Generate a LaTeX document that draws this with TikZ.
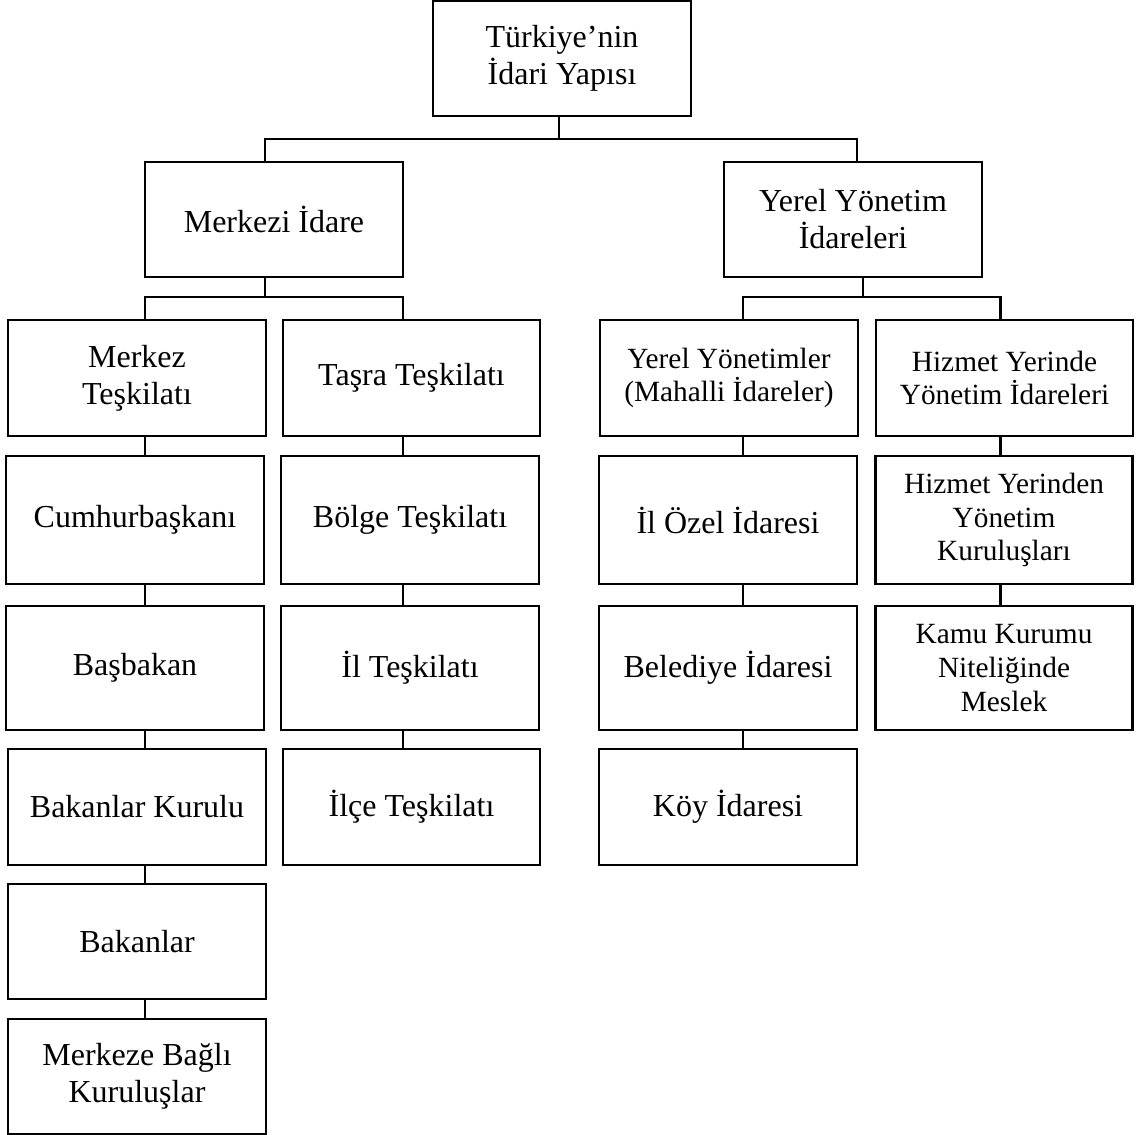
\documentclass[tikz,border=0pt]{standalone}
\usepackage{fontspec}
\setmainfont{Liberation Serif}
\usetikzlibrary{positioning,calc}

\begin{document}
\begin{tikzpicture}[x=0.375pt, y=-0.375pt,
      font=\fontsize{12}{13.9}\selectfont,
      box/.style 2 args={draw, line width=0.8pt, align=center, inner sep=0pt,
        minimum width=#1*0.375pt, minimum height=#2*0.375pt},
      small/.style={font=\fontsize{11}{12.7}\selectfont},
      link/.style={draw, line width=0.8pt}]
      \useasboundingbox (0,0) rectangle (1143,1135);
      % top levels
      \node[box={258}{115}] (top) at (562,58.5) {Türkiye’nin\\İdari Yapısı};
      \node[box={258}{115}] (merkezi) at (274,219.5) {Merkezi İdare};
      \node[box={258}{115}] (yerel) at (853,219.5) {Yerel Yönetim\\İdareleri};
      % row 1
      \node[box={258}{116}] (merkez) at (137,378) {Merkez\\Teşkilatı};
      \node[box={257}{116}] (tasra) at (411.5,378) {Taşra Teşkilatı};
      \node[box={258}{116}, small] (mahalli) at (729,378) {Yerel Yönetimler\\(Mahalli İdareler)};
      \node[box={257}{116}, small] (hizmet) at (1004.5,378) {Hizmet Yerinde\\Yönetim İdareleri};
      % row 2
      \node[box={258}{128}] (cumhur) at (135,520) {Cumhurbaşkanı};
      \node[box={258}{128}] (bolge) at (410,520) {Bölge Teşkilatı};
      \node[box={258}{128}] (ilozel) at (728,520) {İl Özel İdaresi};
      \node[box={257}{128}, small] (kurulus) at (1004,520) {Hizmet Yerinden\\Yönetim\\Kuruluşları};
      % row 3
      \node[box={258}{124}] (basbakan) at (135,668) {Başbakan};
      \node[box={258}{124}] (il) at (410,668) {İl Teşkilatı};
      \node[box={258}{124}] (belediye) at (728,668) {Belediye İdaresi};
      \node[box={257}{124}, small] (meslek) at (1004,668) {Kamu Kurumu\\Niteliğinde\\Meslek};
      % row 4
      \node[box={258}{116}] (kurul) at (137,807) {Bakanlar Kurulu};
      \node[box={257}{116}] (ilce) at (411.5,807) {İlçe Teşkilatı};
      \node[box={258}{116}] (koy) at (728,807) {Köy İdaresi};
      % rows 5 and 6
      \node[box={258}{115}] (bakanlar) at (137,941.5) {Bakanlar};
      \node[box={258}{115}] (bagli) at (137,1076.5) {Merkeze Bağlı\\Kuruluşlar};

      % junctions
      \coordinate (j0) at (559,139);
      \coordinate (ja) at (265,139);
      \coordinate (jb) at (857,139);
      \coordinate (jm) at (265,297);
      \coordinate (jy) at (863,297);
      \coordinate (c1) at (145,297);
      \coordinate (c2) at (403,297);
      \coordinate (c3) at (742.7,297);
      \coordinate (c4) at (1000.5,297);

      \draw[link] (top.south -| j0) -- (j0);
      \draw[link] (ja |- merkezi.north) -- (ja) -- (jb) -- (jb |- yerel.north);
      \draw[link] (jm |- merkezi.south) -- (jm);
      \draw[link] (c1 |- merkez.north) -- (c1) -- (c2) -- (c2 |- tasra.north);
      \draw[link] (jy |- yerel.south) -- (jy);
      \draw[link] (c3 |- mahalli.north) -- (c3) -- (c4) -- (c4 |- hizmet.north);

      % chains
      \foreach \a/\b in {merkez/cumhur, cumhur/basbakan, basbakan/kurul,
          kurul/bakanlar, bakanlar/bagli}
        \draw[link] (c1 |- \a.south) -- (c1 |- \b.north);
      \foreach \a/\b in {tasra/bolge, bolge/il, il/ilce}
        \draw[link] (c2 |- \a.south) -- (c2 |- \b.north);
      \foreach \a/\b in {mahalli/ilozel, ilozel/belediye, belediye/koy}
        \draw[link] (c3 |- \a.south) -- (c3 |- \b.north);
      \foreach \a/\b in {hizmet/kurulus, kurulus/meslek}
        \draw[link] (c4 |- \a.south) -- (c4 |- \b.north);
    \end{tikzpicture}
\end{document}
